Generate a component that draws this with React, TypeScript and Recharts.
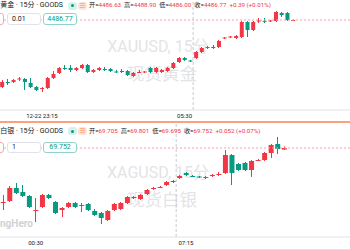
import { Bar, ComposedChart, ReferenceLine, XAxis, YAxis } from 'recharts'

const UP = '#f23645'
const DOWN = '#089981'
const FONT = "Roboto, 'Noto Sans CJK SC', sans-serif"

// 现货黄金 15分
const goldOpen = [4466.67, 4468.17, 4468.17, 4468.92, 4469.07, 4467.87, 4466.67, 4466.07, 4466.37, 4469.37, 4470.87, 4472.37, 4472.37, 4471.77, 4472.37, 4473.27, 4471.17, 4471.77, 4472.07, 4472.07, 4471.32, 4471.47, 4471.47, 4469.97, 4470.96, 4471.02, 4472.37, 4471.17, 4471.17, 4471.47, 4472.37, 4474.17, 4475.37, 4474.62, 4475.37, 4477.17, 4478.37, 4478.67, 4478.67, 4481.22, 4481.52, 4481.37, 4481.67, 4486.17, 4483.77, 4486.32, 4486.53, 4486.32, 4486.47, 4488.87, 4488.87, 4486.63]
const goldHigh = [4468.77, 4469.07, 4469.07, 4469.67, 4469.37, 4469.37, 4466.97, 4466.67, 4469.67, 4471.47, 4472.67, 4473.27, 4473.27, 4472.67, 4473.57, 4473.57, 4472.07, 4472.67, 4472.67, 4472.37, 4471.77, 4472.07, 4471.77, 4471.17, 4471.77, 4471.47, 4472.67, 4472.67, 4472.07, 4472.67, 4474.17, 4475.67, 4475.67, 4474.77, 4477.47, 4478.67, 4478.97, 4479.27, 4480.77, 4481.67, 4481.97, 4482.27, 4486.47, 4486.47, 4486.47, 4487.37, 4487.37, 4486.77, 4489.47, 4489.17, 4489.17, 4486.92]
const goldLow = [4466.37, 4467.27, 4467.87, 4468.47, 4465.77, 4466.37, 4465.47, 4465.17, 4466.07, 4469.07, 4470.57, 4471.77, 4471.17, 4471.47, 4472.07, 4470.87, 4470.87, 4471.47, 4471.47, 4471.17, 4470.87, 4470.87, 4469.97, 4469.67, 4470.87, 4470.87, 4470.87, 4470.87, 4470.87, 4471.17, 4472.07, 4473.87, 4474.47, 4474.17, 4475.07, 4476.87, 4478.07, 4478.07, 4478.37, 4481.07, 4481.37, 4481.07, 4481.37, 4481.67, 4483.47, 4485.87, 4485.87, 4486.17, 4486.17, 4487.67, 4486.47, 4486.55]
const goldClose = [4468.17, 4468.02, 4468.77, 4469.22, 4468.17, 4466.67, 4465.77, 4466.37, 4469.37, 4470.57, 4472.37, 4472.16, 4471.77, 4472.37, 4473.27, 4471.17, 4471.77, 4472.37, 4471.86, 4471.47, 4471.11, 4471.26, 4470.27, 4470.87, 4471.17, 4471.32, 4471.17, 4472.37, 4471.77, 4472.37, 4473.87, 4475.37, 4474.77, 4474.32, 4477.17, 4478.37, 4478.67, 4478.46, 4480.47, 4481.52, 4481.82, 4481.97, 4486.17, 4483.77, 4486.17, 4486.62, 4486.32, 4486.62, 4489.17, 4488.27, 4486.77, 4486.77]
const goldTicks = [7, 32]
const goldTickLabels = ['12-22 23:15', '05:30']

// 现货白银 15分
const silverOpen = [68.117, 68.162, 68.552, 68.432, 68.312, 67.877, 67.982, 68.342, 68.132, 67.892, 67.982, 68.102, 68.027, 68.072, 67.862, 67.802, 67.592, 67.892, 67.922, 68.102, 68.282, 68.222, 68.372, 68.522, 68.567, 68.642, 68.762, 68.852, 69.002, 68.912, 68.897, 68.852, 68.927, 68.957, 69.002, 69.542, 69.272, 69.302, 69.092, 69.377, 69.392, 69.602, 69.872, 69.705]
const silverHigh = [68.342, 68.612, 68.702, 68.642, 68.342, 68.252, 68.372, 68.372, 68.162, 67.982, 68.132, 68.132, 68.102, 68.102, 67.922, 67.832, 67.892, 68.102, 68.132, 68.312, 68.312, 68.372, 68.522, 68.582, 68.612, 68.762, 68.792, 68.942, 69.032, 68.942, 68.912, 68.912, 68.972, 69.032, 69.692, 69.572, 69.302, 69.332, 69.392, 69.422, 69.632, 69.872, 70.082, 69.801]
const silverLow = [67.892, 68.132, 68.372, 68.282, 67.952, 67.532, 67.952, 68.222, 67.772, 67.682, 67.952, 67.952, 67.832, 67.862, 67.712, 67.472, 67.562, 67.862, 67.892, 68.072, 68.222, 68.192, 68.342, 68.492, 68.552, 68.612, 68.702, 68.822, 68.912, 68.882, 68.852, 68.822, 68.882, 68.912, 68.972, 68.642, 69.062, 69.062, 68.882, 69.362, 69.362, 69.452, 69.572, 69.695]
const silverClose = [68.132, 68.552, 68.402, 68.312, 67.982, 67.892, 68.342, 68.252, 67.802, 67.952, 68.102, 67.982, 68.042, 67.892, 67.742, 67.652, 67.862, 68.072, 68.102, 68.282, 68.252, 68.342, 68.492, 68.552, 68.582, 68.732, 68.741, 68.912, 68.942, 68.891, 68.867, 68.882, 68.942, 68.972, 69.542, 69.002, 69.092, 69.092, 69.362, 69.392, 69.602, 69.842, 69.722, 69.752]
const silverTicks = [5, 28]
const silverTickLabels = ['00:30', '07:15']

const toRows = (o: number[], h: number[], l: number[], c: number[]) =>
  o.map((v, i) => ({ i, o: v, h: h[i], l: l[i], c: c[i], range: [l[i], h[i]] }))

const goldRows = toRows(goldOpen, goldHigh, goldLow, goldClose)
const silverRows = toRows(silverOpen, silverHigh, silverLow, silverClose)

function Candle(props: any) {
  const { x, y, width, height, payload } = props
  if (x == null || !payload) return null
  const { o, h, l, c } = payload
  const color = c >= o ? UP : DOWN
  const k = height / (h - l || 1)
  const bodyTop = y + (h - Math.max(o, c)) * k
  const bodyH = Math.max(1, Math.abs(c - o) * k)
  const wx = Math.round(x + width / 2 - 0.5)
  return (
    <g>
      <rect x={wx} y={y} width={1} height={height} fill={color} />
      <rect x={x} y={bodyTop} width={width} height={bodyH} fill={color} />
    </g>
  )
}

function CandlePanel(props: any) {
  const { rows, xDomain, yDomain, ticks, labels, session, last, height, barSize } = props
  return (
    <ComposedChart width={350} height={height} data={rows} margin={{ top: 0, right: 0, bottom: 0, left: 0 }}>
      <XAxis
        dataKey="i"
        type="number"
        domain={xDomain}
        allowDataOverflow
        ticks={ticks}
        interval={0}
        tickFormatter={(v) => labels[ticks.indexOf(v)] ?? ''}
        height={12}
        tickLine={false}
        tickSize={0}
        tickMargin={4}
        axisLine={{ stroke: '#e0e3eb' }}
        tick={{ fontSize: 6, fill: '#131722', fontFamily: FONT }}
      />
      <YAxis hide domain={yDomain} allowDataOverflow />
      <ReferenceLine x={session} stroke="#c8cbd2" strokeDasharray="3 2" />
      <ReferenceLine y={last} stroke="#f5a0aa" strokeDasharray="2 2" />
      <Bar dataKey="range" barSize={barSize} shape={<Candle />} isAnimationActive={false} />
    </ComposedChart>
  )
}

function Header(props: any) {
  const { top, boxTop, boxH, name, ohlc, change, qty, price } = props
  const names = ['开', '高', '低', '收']
  return (
    <>
      <div style={{ position: 'absolute', top, right: 287, height: 10, lineHeight: '10px', fontSize: 7, color: '#131722', whiteSpace: 'nowrap' }}>
        {name} · 15分 · GOODS
      </div>
      <div style={{ position: 'absolute', top: top + 1.5, left: 68, width: 9, height: 8, borderRadius: 3, background: '#d6f0ea' }}>
        <div style={{ position: 'absolute', left: 3, top: 2.5, width: 3, height: 3, borderRadius: 2, background: DOWN }} />
      </div>
      <div style={{ position: 'absolute', top: top + 1.5, left: 78, width: 9, height: 8, borderRadius: 3, background: '#fde4d8', color: '#f5894f', fontSize: 7, lineHeight: '8px', textAlign: 'center' }}>
        ≡
      </div>
      <div style={{ position: 'absolute', top, left: 89, height: 10, lineHeight: '10px', fontSize: 6.2, whiteSpace: 'nowrap', color: '#131722' }}>
        {ohlc.map((v: string, i: number) => (
          <span key={i} style={{ marginRight: 3 }}>
            {names[i]}=<span style={{ color: UP }}>{v}</span>
          </span>
        ))}
        <span style={{ color: UP }}>{change}</span>
      </div>
      <div style={{ position: 'absolute', top: boxTop, left: -30, width: 34, height: boxH, boxSizing: 'border-box', border: '1px solid #f7a6ae', borderRadius: 3, background: '#fff' }} />
      <div style={{ position: 'absolute', top: boxTop, left: 7, width: 34, height: boxH, boxSizing: 'border-box', border: '1px solid #e0e3eb', borderRadius: 3, background: '#fff', fontSize: 7, lineHeight: `${boxH - 2}px`, paddingLeft: 4, color: '#131722' }}>
        {qty}
      </div>
      <div style={{ position: 'absolute', top: boxTop, left: 43, width: 34, height: boxH, boxSizing: 'border-box', border: '1px solid #8fd4c7', borderRadius: 3, background: '#fff', fontSize: 7, lineHeight: `${boxH - 2}px`, textAlign: 'center', color: DOWN }}>
        {price}
      </div>
    </>
  )
}

function Watermark({ top, line1, line2 }: any) {
  return (
    <>
      <div style={{ position: 'absolute', top, left: 58, width: 200, textAlign: 'center', color: '#e3e4e7', fontSize: 16, lineHeight: '18px', whiteSpace: 'nowrap' }}>
        {line1}
      </div>
      <div style={{ position: 'absolute', top: top + 27, left: 62, width: 200, textAlign: 'center', color: '#e3e4e7', fontSize: 17.5, lineHeight: '18px', whiteSpace: 'nowrap' }}>
        {line2}
      </div>
    </>
  )
}

export default function App() {
  return (
    <div style={{ position: 'fixed', left: 0, top: 0, width: 350, height: 250, overflow: 'hidden', background: '#fff', fontFamily: FONT }}>
      <Watermark top={37.5} line1="XAUUSD, 15分" line2="现货黄金" />
      <Watermark top={163.5} line1="XAGUSD, 15分" line2="现货白银" />
      <div style={{ position: 'absolute', left: 0, top: 217.5, fontSize: 10, fontWeight: 700, lineHeight: '12px', color: '#cfd2d8' }}>ngHero</div>

      <div style={{ position: 'absolute', left: 0, top: 0 }}>
        <CandlePanel
          rows={goldRows}
          xDomain={[-0.35, 60.99]}
          yDomain={[4459.77, 4492.77]}
          ticks={goldTicks}
          labels={goldTickLabels}
          session={33.5}
          last={4486.77}
          height={122}
          barSize={4}
        />
      </div>
      <div style={{ position: 'absolute', left: 0, top: 121, width: 350, height: 2, background: '#ffa07c' }} />
      <div style={{ position: 'absolute', left: 0, top: 123 }}>
        <CandlePanel
          rows={silverRows}
          xDomain={[-0.46, 53.1]}
          yDomain={[67.082, 70.502]}
          ticks={silverTicks}
          labels={silverTickLabels}
          session={26.5}
          last={69.752}
          height={126}
          barSize={5}
        />
      </div>
      <div style={{ position: 'absolute', left: 0, top: 249, width: 350, height: 1, background: '#e0e3eb' }} />

      <Header top={0} boxTop={13} boxH={12} name="现货黄金" ohlc={['4486.63', '4488.90', '4486.00', '4486.77']} change="+0.39 (+0.01%)" qty="0.01" price="4486.77" />
      <Header top={125.5} boxTop={142} boxH={11} name="现货白银" ohlc={['69.705', '69.801', '69.695', '69.752']} change="+0.052 (+0.07%)" qty="1" price="69.752" />
    </div>
  )
}
